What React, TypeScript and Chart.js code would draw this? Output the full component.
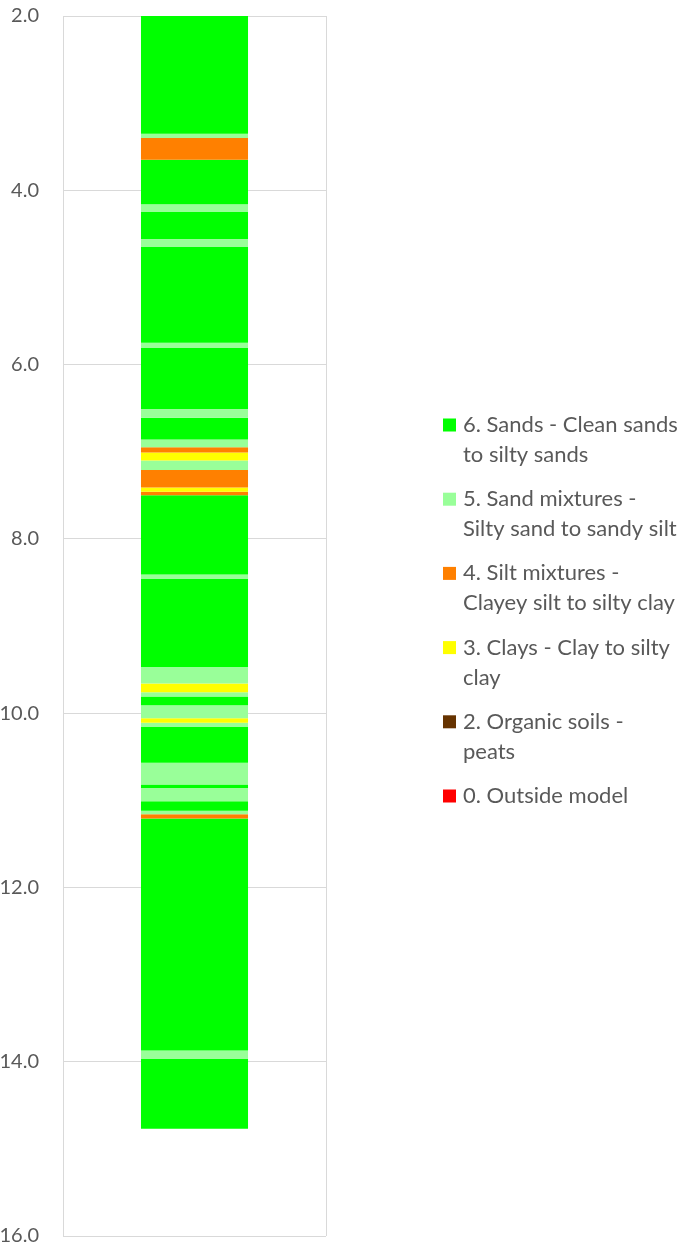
import React, { useEffect, useRef } from 'react';
import { Chart, registerables } from 'chart.js';

Chart.register(...registerables);

// Layer boundaries (depth, top to bottom) and the soil type code of each layer
const layerBounds = [
  2.0, 3.35, 3.40, 3.65, 4.16, 4.25, 4.56, 4.65, 5.75, 5.81, 6.51, 6.61, 6.86,
  6.95, 7.01, 7.10, 7.21, 7.41, 7.46, 7.50, 8.41, 8.46, 9.47, 9.66, 9.76, 9.81,
  9.91, 10.06, 10.11, 10.16, 10.57, 10.82, 10.86, 11.01, 11.12, 11.16, 11.21,
  13.87, 13.97, 14.77,
];
const layerTypes = [
  6, 5, 4, 6, 5, 6, 5, 6, 5, 6, 5, 6, 5, 4, 3, 5, 4, 3, 4, 6, 5, 6, 5, 3, 5, 6,
  5, 3, 5, 6, 5, 6, 5, 6, 5, 4, 6, 5, 6,
];

const soilCodes = [6, 5, 4, 3, 2, 0];
const soilLabels = [
  ['6. Sands - Clean sands', 'to silty sands'],
  ['5. Sand mixtures -', 'Silty sand to sandy silt'],
  ['4. Silt mixtures -', 'Clayey silt to silty clay'],
  ['3. Clays - Clay to silty', 'clay'],
  ['2. Organic soils -', 'peats'],
  ['0. Outside model'],
];
const soilColors = ['#00FF00', '#99FF99', '#FF8000', '#FFFF00', '#663300', '#FF0000'];

const depthMin = 2;
const depthMax = 16;
const depthStep = 2;
const categories = [''];

const FONT = 'Lato, "Open Sans", sans-serif';
const TEXT_COLOR = '#595959';
const GRID_COLOR = '#D9D9D9';

const colorOf = (code: number) => soilColors[soilCodes.indexOf(code)];

const framePlugin = {
  id: 'plotFrame',
  beforeDatasetsDraw(chart: any) {
    const { ctx, chartArea } = chart;
    ctx.save();
    ctx.strokeStyle = GRID_COLOR;
    ctx.lineWidth = 1;
    ctx.beginPath();
    const l = Math.round(chartArea.left) + 0.5;
    const r = Math.round(chartArea.right) + 0.5;
    ctx.moveTo(l, chartArea.top);
    ctx.lineTo(l, chartArea.bottom);
    ctx.moveTo(r, chartArea.top);
    ctx.lineTo(r, chartArea.bottom);
    ctx.stroke();
    ctx.restore();
  },
};

const legendPlugin = {
  id: 'soilLegend',
  afterDraw(chart: any) {
    const ctx = chart.ctx;
    ctx.save();
    ctx.font = `22px ${FONT}`;
    ctx.textBaseline = 'middle';
    ctx.textAlign = 'left';
    const x0 = 443;
    const yStart = 425;
    const itemGap = 74.2;
    const lineGap = 30;
    soilCodes.forEach((code, i) => {
      const y = yStart + i * itemGap;
      ctx.fillStyle = soilColors[i];
      ctx.fillRect(x0, y - 6.5, 13, 13);
      ctx.fillStyle = TEXT_COLOR;
      soilLabels[i].forEach((line, j) => {
        ctx.fillText(line, x0 + 20, y + j * lineGap);
      });
    });
    ctx.restore();
  },
};

export default function App() {
  const canvasRef = useRef<HTMLCanvasElement | null>(null);

  useEffect(() => {
    document.body.style.margin = '0';
    const canvas = canvasRef.current;
    if (!canvas) return;

    const datasets = layerTypes.map((code, i) => ({
      label: `Layer ${i + 1}`,
      data: [[layerBounds[i], layerBounds[i + 1]]] as any,
      backgroundColor: colorOf(code),
      borderWidth: 0,
      grouped: false,
      barPercentage: 1,
      categoryPercentage: 0.407,
    }));

    const chart = new Chart(canvas, {
      type: 'bar',
      data: { labels: categories, datasets },
      plugins: [framePlugin, legendPlugin],
      options: {
        animation: false,
        responsive: true,
        maintainAspectRatio: false,
        layout: { padding: { top: 16, bottom: 11, left: 0, right: 355 } },
        plugins: {
          legend: { display: false },
          tooltip: { enabled: false },
        },
        scales: {
          x: { display: false },
          y: {
            reverse: true,
            min: depthMin,
            max: depthMax,
            afterFit: (scale: any) => {
              scale.width = 63;
            },
            ticks: {
              stepSize: depthStep,
              padding: 0,
              color: TEXT_COLOR,
              font: { family: FONT, size: 20 },
              callback: (v: any) => Number(v).toFixed(1),
            },
            grid: {
              color: GRID_COLOR,
              lineWidth: 1,
              drawTicks: true,
              tickLength: 24,
              tickColor: 'rgba(0,0,0,0)',
            },
            border: { display: true, color: GRID_COLOR },
          },
        },
      },
    });

    return () => chart.destroy();
  }, []);

  return (
    <div style={{ position: 'relative', width: '681px', height: '1248px' }}>
      <canvas ref={canvasRef} />
    </div>
  );
}
